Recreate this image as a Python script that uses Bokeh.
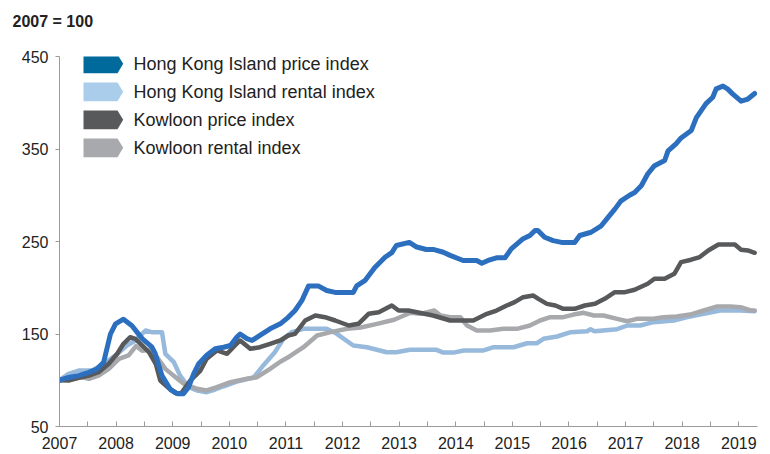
from bokeh.plotting import figure
from bokeh.models import FixedTicker, Label, PolyAnnotation, Range1d, Title
from bokeh.embed import file_html
from bokeh.resources import INLINE

# ---------------- data (index, 2007 = 100) ----------------
series_names = ["Hong Kong Island price index", "Hong Kong Island rental index",
                "Kowloon price index", "Kowloon rental index"]

hki_price_t = [2007.00, 2007.16, 2007.34, 2007.52, 2007.66, 2007.78, 2007.90, 2007.99, 2008.13, 2008.28,
               2008.46, 2008.63, 2008.69, 2008.81, 2008.96, 2009.08, 2009.19, 2009.28, 2009.37, 2009.46,
               2009.60, 2009.75, 2009.90, 2010.02, 2010.13, 2010.19, 2010.31, 2010.40, 2010.54, 2010.72,
               2010.90, 2011.04, 2011.16, 2011.28, 2011.40, 2011.57, 2011.72, 2011.87, 2012.19, 2012.25,
               2012.40, 2012.57, 2012.75, 2012.87, 2012.95, 2013.18, 2013.31, 2013.48, 2013.60, 2013.78,
               2013.90, 2014.13, 2014.37, 2014.46, 2014.57, 2014.72, 2014.87, 2014.98, 2015.19, 2015.31,
               2015.40, 2015.45, 2015.57, 2015.72, 2015.87, 2016.10, 2016.19, 2016.39, 2016.57, 2016.69,
               2016.81, 2016.92, 2017.07, 2017.16, 2017.28, 2017.39, 2017.51, 2017.69, 2017.75, 2017.89,
               2017.98, 2018.16, 2018.25, 2018.42, 2018.54, 2018.60, 2018.72, 2018.80, 2018.89, 2019.04,
               2019.16, 2019.28]
hki_price = [100, 103, 105, 108.5, 112, 119.5, 150, 161, 166, 159,
             145, 136, 129, 105, 90, 85.5, 85.5, 92.5, 107, 118,
             127, 134, 135.7, 137.6, 146.5, 150, 145, 143, 148.4, 155.6,
             161, 168, 175.4, 186, 202, 202, 197, 195, 195, 202,
             208, 222, 233, 238, 245.7, 249, 244, 241.4, 241.4, 238.4,
             235, 229.5, 229.5, 226.5, 229.5, 232.4, 232.4, 242, 253, 256.5,
             262, 262, 254.6, 251, 249, 249, 256.5, 260, 267, 276,
             285, 294, 300, 303, 310.5, 323, 332, 337.6, 348, 355.6,
             362, 370, 384, 399, 406, 415, 418, 415, 409.6, 401.7,
             404, 410]

hki_rent_t = [2007.00, 2007.16, 2007.34, 2007.58, 2007.78, 2007.99, 2008.19, 2008.34, 2008.52, 2008.63,
              2008.81, 2008.87, 2009.02, 2009.13, 2009.28, 2009.43, 2009.60, 2009.75, 2009.90, 2010.13,
              2010.43, 2010.60, 2010.80, 2010.96, 2011.10, 2011.31, 2011.72, 2011.90, 2012.19, 2012.43,
              2012.78, 2012.95, 2013.19, 2013.66, 2013.78, 2013.96, 2014.14, 2014.49, 2014.67, 2015.02,
              2015.26, 2015.43, 2015.55, 2015.79, 2016.03, 2016.32, 2016.38, 2016.45, 2016.85, 2017.03,
              2017.26, 2017.49, 2017.85, 2018.09, 2018.38, 2018.67, 2019.03, 2019.28]
hki_rent = [100, 107, 110.5, 110.5, 117.8, 126.8, 137.6, 143, 153.8, 152,
            152, 128.6, 119.5, 105, 92.5, 88.9, 87.1, 90, 93.5, 98.5,
            103, 116, 130, 145, 152, 155.6, 155.6, 150.2, 137.6, 135.7,
            130.3, 130.3, 132.9, 132.9, 129.9, 129.9, 132.2, 132.2, 135.7, 135.7,
            140, 140, 144.8, 147.3, 152, 153, 155.2, 153, 155.2, 159.2,
            159.2, 162.8, 164.6, 168.2, 171.8, 175.4, 175.4, 174.6]

kln_price_t = [2007.00, 2007.16, 2007.34, 2007.52, 2007.69, 2007.87, 2008.02, 2008.13, 2008.25, 2008.34,
               2008.46, 2008.58, 2008.70, 2008.78, 2008.92, 2009.05, 2009.15, 2009.31, 2009.49, 2009.60,
               2009.78, 2009.96, 2010.10, 2010.19, 2010.37, 2010.54, 2010.72, 2010.90, 2011.04, 2011.16,
               2011.34, 2011.52, 2011.69, 2011.87, 2012.11, 2012.28, 2012.46, 2012.64, 2012.87, 2012.99,
               2013.16, 2013.60, 2013.90, 2014.31, 2014.55, 2014.72, 2014.90, 2015.04, 2015.19, 2015.37,
               2015.46, 2015.61, 2015.76, 2015.90, 2016.10, 2016.28, 2016.46, 2016.63, 2016.81, 2016.99,
               2017.16, 2017.39, 2017.51, 2017.69, 2017.86, 2017.98, 2018.16, 2018.31, 2018.46, 2018.64,
               2018.93, 2019.04, 2019.16, 2019.28]
kln_price = [100, 99.7, 102.6, 105.1, 108.7, 117.8, 128.6, 139.4, 146.5, 144.8,
             137.6, 130.3, 117.8, 99.7, 92, 86, 86, 99.7, 110.5, 123.2,
             132.2, 128.6, 137.6, 143, 134, 135.7, 139.4, 143, 148.4, 150.2,
             164.6, 170, 168.2, 164.6, 159.2, 161, 171.8, 173.6, 180.8, 175.4,
             175.4, 170, 164.6, 164.6, 171.8, 175.4, 180.8, 184.4, 189.8, 191.6,
             188, 182.6, 180.8, 177.2, 177.2, 180.8, 182.6, 188, 195.2, 195.2,
             197.8, 204.3, 209.7, 209.7, 215.1, 227.7, 230.3, 233.2, 240.3, 246.8,
             246.8, 241.1, 240.3, 237.8]

kln_rent_t = [2007.00, 2007.16, 2007.40, 2007.52, 2007.69, 2007.87, 2008.05, 2008.22, 2008.35, 2008.46,
              2008.58, 2008.72, 2008.87, 2009.05, 2009.20, 2009.43, 2009.60, 2009.78, 2010.02, 2010.31,
              2010.49, 2010.72, 2010.90, 2011.07, 2011.31, 2011.55, 2011.79, 2012.08, 2012.32, 2012.61,
              2012.91, 2013.20, 2013.38, 2013.62, 2013.73, 2013.90, 2014.08, 2014.20, 2014.37, 2014.61,
              2014.84, 2015.08, 2015.31, 2015.49, 2015.67, 2015.90, 2016.08, 2016.26, 2016.44, 2016.61,
              2016.85, 2017.03, 2017.20, 2017.49, 2017.67, 2017.90, 2018.14, 2018.38, 2018.62, 2018.85,
              2019.03, 2019.21, 2019.28]
kln_rent = [100, 101.6, 103.3, 101.6, 105.1, 112.3, 123.2, 126.8, 137, 132,
            133, 125, 112.3, 103.3, 96, 90.8, 89, 92.5, 97.9, 101.6,
            103.3, 112.3, 120, 126, 135.7, 148.4, 152, 155.6, 157, 161,
            165.4, 173, 171.8, 175.4, 170, 168.2, 168.2, 159.2, 153.8, 153.8,
            155.6, 155.6, 159.2, 164.6, 168.2, 168.2, 171, 172.9, 170, 170,
            166.4, 163.8, 166.4, 166.4, 168.2, 169, 171, 175.4, 179.7, 179.7,
            179, 175.4, 175.4]

x_year_ticks = list(range(2007, 2020))
x_half_ticks = [y + 0.5 for y in range(2007, 2019)]
y_ticks = [50, 150, 250, 350, 450]

line_colors = ["#2B6FBE", "#97B9DB", "#58595B", "#A7A9AC"]
legend_colors = ["#006A9C", "#A9CDEB", "#58595B", "#A7A9AC"]

FONT = "Liberation Sans"

# ---------------- figure ----------------
p = figure(width=768, height=452, output_backend="svg", toolbar_location=None,
           x_range=Range1d(2007, 2019.33), y_range=Range1d(50, 450),
           min_border_left=59, min_border_right=11, min_border_top=56, min_border_bottom=26)
p.outline_line_color = None
p.xgrid.visible = False
p.ygrid.visible = False
p.background_fill_color = "white"
p.border_fill_color = "white"

# unit note above the plot: an empty spacer next to the frame, the note above it
p.add_layout(Title(text=" ", text_font=FONT, text_font_size="16px", standoff=6), "above")
p.add_layout(Title(text="2007 = 100", align="left", offset=-47, vertical_align="top", standoff=0,
                   text_font=FONT, text_font_size="16px", text_font_style="bold",
                   text_color="#222222"), "above")

series = [(hki_rent_t, hki_rent, 1, 4.5),
          (kln_rent_t, kln_rent, 3, 4.5),
          (kln_price_t, kln_price, 2, 4.5),
          (hki_price_t, hki_price, 0, 5)]
for t, v, ci, w in series:
    p.line(t, v, line_color=line_colors[ci], line_width=w, line_join="round", line_cap="round")

# axes
p.xaxis.ticker = FixedTicker(ticks=x_year_ticks, minor_ticks=x_half_ticks)
p.xaxis.major_tick_in = 5
p.xaxis.major_tick_out = 0
p.xaxis.minor_tick_in = 5
p.xaxis.minor_tick_out = 0
p.xaxis.major_label_standoff = 10

p.yaxis.ticker = FixedTicker(ticks=y_ticks)
p.yaxis.major_tick_in = 0
p.yaxis.major_tick_out = 4
p.yaxis.major_label_standoff = 7

for ax in (p.xaxis, p.yaxis):
    ax.axis_line_color = "#9A9A9A"
    ax.major_tick_line_color = "#9A9A9A"
    ax.minor_tick_line_color = "#9A9A9A"
    ax.major_label_text_font = FONT
    ax.major_label_text_font_size = "16px"
    ax.major_label_text_color = "#222222"
p.yaxis.minor_tick_line_color = None

# legend with arrow-shaped swatches (screen units relative to the plot frame)
frame_h = 370
for i, (name, col) in enumerate(zip(series_names, legend_colors)):
    top = frame_h + 2 - 28 * i
    bot = top - 18.7
    mid = (top + bot) / 2
    p.add_layout(PolyAnnotation(xs=[24, 58, 63.7, 58, 24], ys=[top, top, mid, bot, bot],
                                xs_units="screen", ys_units="screen",
                                fill_color=col, fill_alpha=1, line_color=None))
    p.add_layout(Label(x=74, y=mid, x_units="screen", y_units="screen", text=name,
                       text_font=FONT, text_font_size="18px", text_color="#222222",
                       text_baseline="middle"))

open("out.html", "w").write(file_html(p, INLINE))
